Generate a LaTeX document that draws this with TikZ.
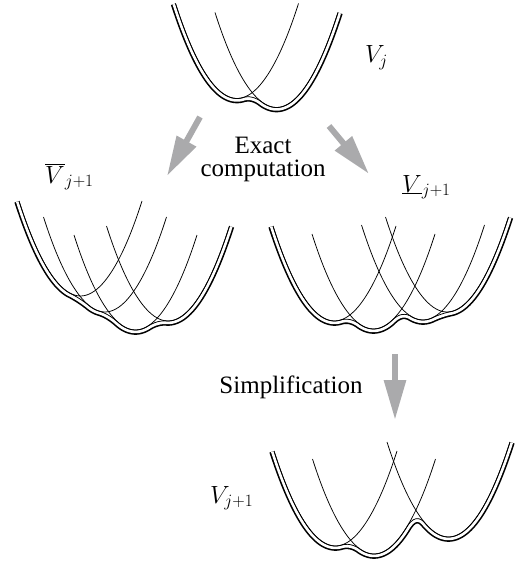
\documentclass[tikz,border=0pt]{standalone}
\usepackage{fontspec}
\setmainfont{Liberation Serif}
\usetikzlibrary{arrows.meta}
\definecolor{arrowgray}{RGB}{170,170,172}
\newcommand\pb[2]{\draw[parab] ({#1-61.5},{#2-95}) parabola bend (#1,#2) ({#1+61.5},{#2-95});}
\newcommand\envpanel[5]{%
  \begin{scope}
    \clip plot[domain=#2:#4,samples=240] (\x,{#1(\x)}) -- ({#4+25},{#5}) -- ({#4+25},600) -- ({#2-25},600) -- ({#2-25},{#3}) -- cycle;
    \draw[outerband] plot[domain=#2:#4,samples=240] (\x,{#1(\x)});
    \draw[innerband] plot[domain=#2:#4,samples=240] (\x,{#1(\x)});
  \end{scope}
  \draw[parab] plot[domain=#2:#4,samples=240] (\x,{#1(\x)});
}
\begin{document}
\begin{tikzpicture}[x=1pt,y=-1pt,
  declare function={
    P(\x,\c,\b)=\b-0.0251*(\x-\c)*(\x-\c);
    EA(\x)=max(P(\x,237,98.5),P(\x,276.5,107.5));
    EB(\x)=max(P(\x,80.5,296),P(\x,105,312),P(\x,135.5,330),P(\x,168,321));
    EC(\x)=max(P(\x,334.5,321),P(\x,373.5,329),P(\x,423,320),P(\x,447,312));
    ED(\x)=max(P(\x,335.5,546),P(\x,374,554),P(\x,448.5,537));
    SA(\x)=(EA(\x-8)+EA(\x-5.3333)+EA(\x-2.6667)+EA(\x)+EA(\x+2.6667)+EA(\x+5.3333)+EA(\x+8))/7+0.714;
    SB(\x)=(EB(\x-8)+EB(\x-5.3333)+EB(\x-2.6667)+EB(\x)+EB(\x+2.6667)+EB(\x+5.3333)+EB(\x+8))/7+0.714;
    SC(\x)=(EC(\x-8)+EC(\x-5.3333)+EC(\x-2.6667)+EC(\x)+EC(\x+2.6667)+EC(\x+5.3333)+EC(\x+8))/7+0.714;
    SD(\x)=(ED(\x-8)+ED(\x-5.3333)+ED(\x-2.6667)+ED(\x)+ED(\x+2.6667)+ED(\x+5.3333)+ED(\x+8))/7+0.714;
  },
  parab/.style={line width=0.75pt},
  outerband/.style={line width=9.6pt, line join=round},
  innerband/.style={line width=6.4pt, white, line join=round},
  bigarrow/.style={draw=arrowgray, line width=6pt, -{Triangle[length=40pt,width=21pt,fill=arrowgray]}},
  lab/.style={font=\fontsize{25}{23}\selectfont, inner sep=0pt},
]
\useasboundingbox (0,0) rectangle (517,564);

% panel A: V_j
\envpanel{SA}{175.5}{3.5}{338}{12.5}
\pb{237}{98.5}
\pb{276.5}{107.5}

% panel B: overline V_{j+1}
\envpanel{SB}{19}{201}{229.5}{226}
\pb{80.5}{296}
\pb{105}{312}
\pb{135.5}{330}
\pb{168}{321}

% panel C: underline V_{j+1}
\envpanel{SC}{273}{226}{508.5}{217}
\pb{334.5}{321}
\pb{373.5}{329}
\pb{423}{320}
\pb{447}{312}

% panel D: V_{j+1}
\envpanel{SD}{274}{451}{510}{442}
\pb{335.5}{546}
\pb{374}{554}
\pb{448.5}{537}

% labels
\node[lab, anchor=base west] (vj) at (365,63) {$V_j$};
\node[lab, anchor=base west] (vbar) at (45,183) {$\overline{V}_{j+1}$};
\node[lab, anchor=base west] (vunder) at (402,192) {$\underline{V}_{j+1}$};
\node[lab, anchor=base west] (vnext) at (210,503) {$V_{j+1}$};
\node[lab, anchor=north, align=center] (exact) at (263,137) {Exact\\computation};
\node[lab, anchor=base] (simp) at (291,393) {Simplification};

% arrows
\coordinate (a1s) at (200,117);
\coordinate (a1e) at (167,176);
\coordinate (a2s) at (329,126);
\coordinate (a2e) at (369,174);
\coordinate (a3s) at (395,354);
\coordinate (a3e) at (395,420);
\draw[bigarrow] (a1s) -- (a1e);
\draw[bigarrow] (a2s) -- (a2e);
\draw[bigarrow] (a3s) -- (a3e);
\end{tikzpicture}
\end{document}
